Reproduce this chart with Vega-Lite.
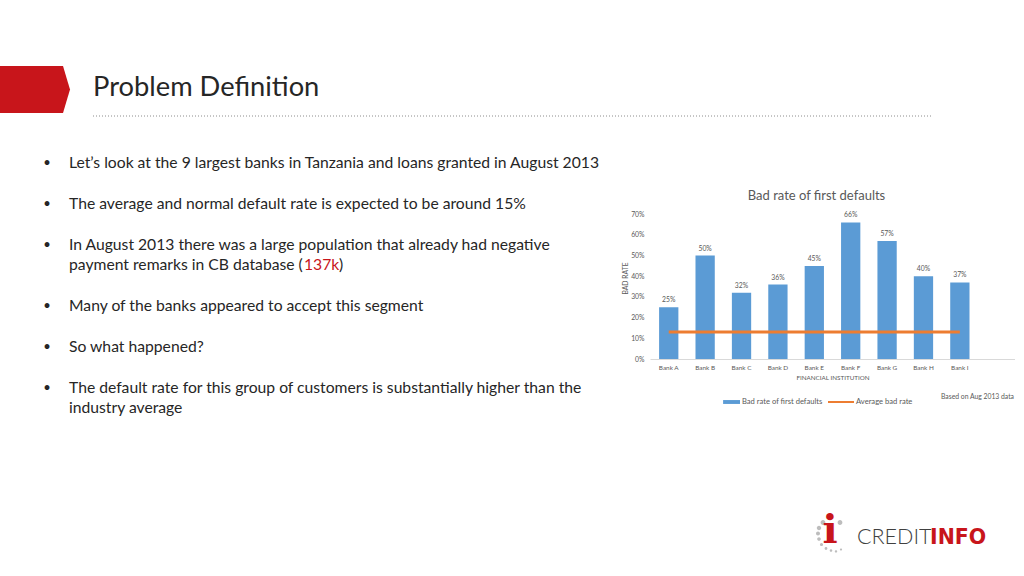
{
  "$schema": "https://vega.github.io/schema/vega-lite/v6.json",
  "background": "white",
  "padding": {"left": 0, "top": 66, "right": 0, "bottom": 0},
  "spacing": 0,
  "config": {"view": {"stroke": null}, "font": "Lato", "axis": {"labelOverlap": false}, "axisY": {"labelOverlap": false}},
  "vconcat": [
    {
      "hconcat": [
        {
          "width": 70, "height": 50,
          "data": {"values": [{"shape": "arrow"}]},
          "mark": {"type": "point", "filled": true, "opacity": 1, "color": "#C8151B", "strokeWidth": 0, "size": 4900,
            "shape": "M-1,-0.714L0.8,-0.714L1,-0.043L0.8,0.629L-1,0.629Z"}
        },
        {"width": 23, "height": 50, "data": {"values": []}, "mark": "point"},
        {
          "width": 838, "height": 50,
          "layer": [
            {
              "data": {"values": [{"title": "Problem Definition"}]},
              "mark": {"type": "text", "align": "left", "baseline": "middle", "fontSize": 27.3, "color": "#262626", "dy": -3},
              "encoding": {"text": {"field": "title"}, "x": {"value": 0}}
            },
            {
              "data": {"values": [{"divider": 0}]},
              "mark": {"type": "rule", "color": "#8c8c8c", "strokeDash": [1, 2], "strokeWidth": 1},
              "encoding": {"y": {"field": "divider", "type": "quantitative", "axis": null, "scale": {"domain": [0, 1]}}}
            }
          ]
        }
      ],
      "spacing": 0, "bounds": "flush"
    },
    {
      "hconcat": [
        {"width": 69, "height": 1, "data": {"values": []}, "mark": "point"},
        {
          "width": 581, "height": 337,
          "data": {"values": [
            {"line": 0, "text": "Let’s look at the 9 largest banks in Tanzania and loans granted in August 2013", "bullet": true, "part": "main"},
            {"line": 2, "text": "The average and normal default rate is expected to be around 15%", "bullet": true, "part": "main"},
            {"line": 4, "text": "In August 2013 there was a large population that already had negative", "bullet": true, "part": "main"},
            {"line": 5, "text": "payment remarks in CB database (", "bullet": false, "part": "main"},
            {"line": 5, "text": "137k", "bullet": false, "part": "red"},
            {"line": 5, "text": ")", "bullet": false, "part": "close"},
            {"line": 7, "text": "Many of the banks appeared to accept this segment", "bullet": true, "part": "main"},
            {"line": 9, "text": "So what happened?", "bullet": true, "part": "main"},
            {"line": 11, "text": "The default rate for this group of customers is substantially higher than the", "bullet": true, "part": "main"},
            {"line": 12, "text": "industry average", "bullet": false, "part": "main"}
          ]},
          "encoding": {
            "y": {"field": "line", "type": "quantitative", "axis": null,
              "scale": {"domain": [-2.22, 14.22], "nice": false, "zero": false, "reverse": true}},
            "x": {"value": 0}
          },
          "layer": [
            {"transform": [{"filter": "datum.part === 'main'"}],
             "mark": {"type": "text", "align": "left", "baseline": "middle", "fontSize": 15.7, "color": "#262626"},
             "encoding": {"text": {"field": "text"}}},
            {"transform": [{"filter": "datum.part === 'red'"}],
             "mark": {"type": "text", "align": "left", "baseline": "middle", "fontSize": 15.7, "color": "#C8151B", "dx": 235},
             "encoding": {"text": {"field": "text"}}},
            {"transform": [{"filter": "datum.part === 'close'"}],
             "mark": {"type": "text", "align": "left", "baseline": "middle", "fontSize": 15.7, "color": "#262626", "dx": 270},
             "encoding": {"text": {"field": "text"}}},
            {"transform": [{"filter": "datum.bullet"}],
             "mark": {"type": "text", "align": "center", "baseline": "middle", "fontSize": 13, "color": "#262626", "dx": -22, "text": "•"}}
          ]
        },
        {
          "width": 365, "height": 242,
          "title": {"text": "Bad rate of first defaults", "fontSize": 13, "fontWeight": "normal", "color": "#595959", "offset": -85.5, "dx": -16},
          "data": {"values": [
            {"bank": "Bank A", "rate": 0.25, "avg": 0.13},
            {"bank": "Bank B", "rate": 0.50, "avg": 0.13},
            {"bank": "Bank C", "rate": 0.32, "avg": 0.13},
            {"bank": "Bank D", "rate": 0.36, "avg": 0.13},
            {"bank": "Bank E", "rate": 0.45, "avg": 0.13},
            {"bank": "Bank F", "rate": 0.66, "avg": 0.13},
            {"bank": "Bank G", "rate": 0.57, "avg": 0.13},
            {"bank": "Bank H", "rate": 0.40, "avg": 0.13},
            {"bank": "Bank I", "rate": 0.37, "avg": 0.13}
          ]},
          "encoding": {
            "x": {"field": "bank", "type": "nominal",
              "scale": {"domain": ["Bank A","Bank B","Bank C","Bank D","Bank E","Bank F","Bank G","Bank H","Bank I"," "], "paddingInner": 0.47, "paddingOuter": 0.25},
              "axis": {"title": "FINANCIAL INSTITUTION", "labelAngle": 0, "ticks": false, "domainColor": "#D9D9D9", "labelPadding": 5, "titlePadding": 4,
                "labelFontSize": 6.4, "titleFontSize": 6.3, "titleFontWeight": "normal", "labelColor": "#595959", "titleColor": "#595959", "labelOverlap": false}},
            "y": {"field": "rate", "type": "quantitative",
              "scale": {"domain": [0, 1.17], "nice": false},
              "axis": {"values": [0, 0.1, 0.2, 0.3, 0.4, 0.5, 0.6, 0.7], "format": ".0%", "title": "BAD RATE", "titleY": 161, "grid": false, "domain": false, "ticks": false,
                "labelOverlap": false, "labelPadding": 6, "titlePadding": 2, "labelFontSize": 6.8, "titleFontSize": 6.8, "titleFontWeight": "normal", "labelColor": "#595959", "titleColor": "#595959"}}
          },
          "layer": [
            {
              "mark": {"type": "bar"},
              "encoding": {
                "fill": {"datum": "Bad rate of first defaults", "type": "nominal",
                  "scale": {"range": ["#5B9BD5"]},
                  "legend": {"orient": "none", "legendX": 713, "legendY": 322, "title": null, "padding": 0,
                    "symbolType": "M-0.3,-0.15L1,-0.15L1,0.15L-0.3,0.15Z", "symbolSize": 676, "labelOffset": 1,
                    "labelFontSize": 7.6, "labelColor": "#595959"}}
              }
            },
            {
              "mark": {"type": "text", "baseline": "bottom", "dy": -4, "fontSize": 6.8, "color": "#595959"},
              "encoding": {
                "text": {"field": "rate", "type": "quantitative", "format": ".0%"}
              }
            },
            {
              "mark": {"type": "line", "strokeWidth": 3},
              "encoding": {
                "y": {"field": "avg", "type": "quantitative",
                  "axis": {"values": [0, 0.1, 0.2, 0.3, 0.4, 0.5, 0.6, 0.7], "format": ".0%", "title": "BAD RATE", "titleY": 161, "grid": false, "domain": false, "ticks": false,
                    "labelOverlap": false, "labelPadding": 6, "titlePadding": 2, "labelFontSize": 6.8, "titleFontSize": 6.8, "titleFontWeight": "normal", "labelColor": "#595959", "titleColor": "#595959"}},
                "stroke": {"datum": "Average bad rate", "type": "nominal",
                  "scale": {"range": ["#ED7D31"]},
                  "legend": {"orient": "none", "legendX": 827, "legendY": 322, "padding": 0,
                    "title": "Based on Aug 2013 data", "titleOrient": "right", "titlePadding": 29, "titleBaseline": "middle",
                    "titleFontSize": 6.8, "titleFontWeight": "normal", "titleColor": "#595959",
                    "symbolType": "stroke", "symbolSize": 676, "symbolStrokeWidth": 2, "labelOffset": 1,
                    "labelFontSize": 7.6, "labelColor": "#595959"}}
              }
            }
          ]
        }
      ],
      "spacing": 0, "bounds": "flush"
    },
    {
      "hconcat": [
        {"width": 813, "height": 80, "data": {"values": []}, "mark": "point"},
        {
          "width": 180, "height": 80,
          "layer": [
            {"data": {"values": [{"icon": "ring"}]},
             "mark": {"type": "point", "filled": true, "opacity": 1, "color": "#BDBDBD", "strokeWidth": 0, "size": 4,
               "shape": "M-82.4,28.5a2.4,2.4 0 1,0 4.8,0a2.4,2.4 0 1,0 -4.8,0M-86.2,34a2.2,2.2 0 1,0 4.4,0a2.2,2.2 0 1,0 -4.4,0M-87,39.5a2,2 0 1,0 4,0a2,2 0 1,0 -4,0M-85.8,45a1.8,1.8 0 1,0 3.6,0a1.8,1.8 0 1,0 -3.6,0M-83.1,50.5a1.6,1.6 0 1,0 3.2,0a1.6,1.6 0 1,0 -3.2,0M-78.4,54.5a1.4,1.4 0 1,0 2.8,0a1.4,1.4 0 1,0 -2.8,0M-73.3,56.5a1.3,1.3 0 1,0 2.6,0a1.3,1.3 0 1,0 -2.6,0M-68.2,57.5a1.2,1.2 0 1,0 2.4,0a1.2,1.2 0 1,0 -2.4,0M-63.1,55.5a1.1,1.1 0 1,0 2.2,0a1.1,1.1 0 1,0 -2.2,0M-65.4,28.5a2.4,2.4 0 1,0 4.8,0a2.4,2.4 0 1,0 -4.8,0"}},
            {"data": {"values": [{"t": "i"}]},
             "mark": {"type": "text", "font": "DejaVu Serif", "fontWeight": "bold", "fontSize": 40, "color": "#C8151B", "align": "center", "baseline": "middle", "dx": -73, "dy": 37},
             "encoding": {"text": {"field": "t"}}},
            {"data": {"values": [{"t": "CREDIT"}]},
             "mark": {"type": "text", "fontWeight": 300, "fontSize": 21.5, "color": "#404040", "align": "left", "baseline": "middle", "dx": -46, "dy": 44},
             "encoding": {"text": {"field": "t"}}},
            {"data": {"values": [{"t": "INFO"}]},
             "mark": {"type": "text", "font": "DejaVu Sans", "fontWeight": "bold", "fontSize": 20.5, "color": "#C8151B", "align": "left", "baseline": "middle", "dx": 27, "dy": 44},
             "encoding": {"text": {"field": "t"}}}
          ]
        }
      ],
      "spacing": 0, "bounds": "flush"
    }
  ]
}
